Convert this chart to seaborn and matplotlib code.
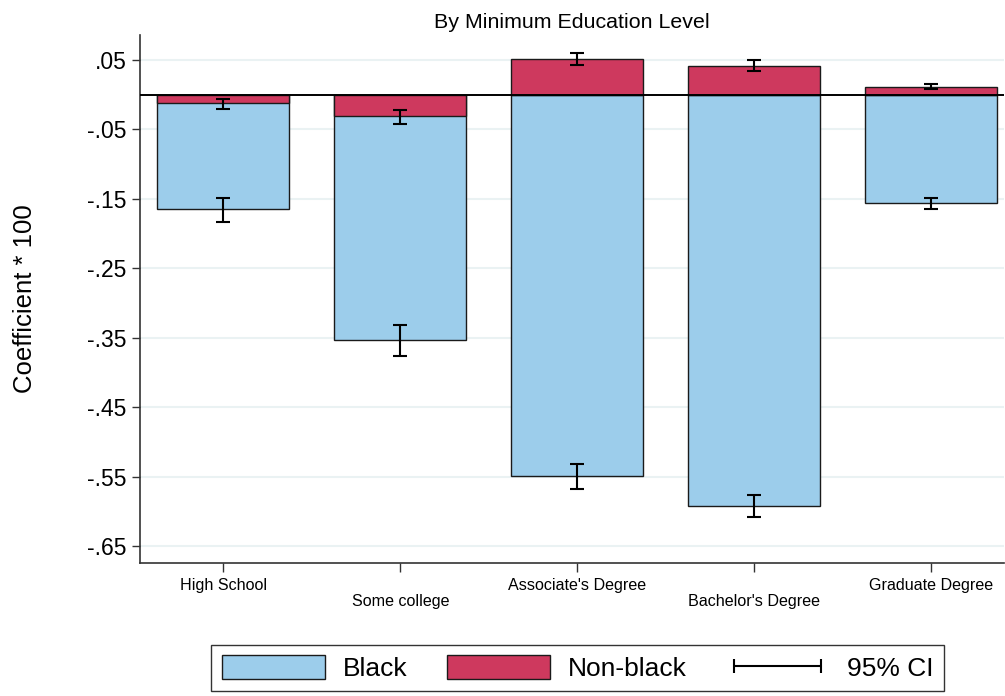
import matplotlib
matplotlib.use("Agg")
import matplotlib.pyplot as plt
import seaborn as sns
import pandas as pd
import numpy as np
from matplotlib.patches import Patch
from matplotlib.lines import Line2D

categories = ["High School", "Some college", "Associate's Degree", "Bachelor's Degree", "Graduate Degree"]
black_coef = [-0.1644, -0.3529, -0.5486, -0.5913, -0.1553]
black_lo = [-0.1826, -0.3755, -0.5680, -0.6080, -0.1644]
black_hi = [-0.1486, -0.3318, -0.5310, -0.5760, -0.1480]
nonblack_coef = [-0.0124, -0.0306, 0.0510, 0.0418, 0.0116]
nonblack_lo = [-0.0204, -0.0416, 0.0428, 0.0346, 0.0087]
nonblack_hi = [-0.0065, -0.0219, 0.0605, 0.0500, 0.0159]
ytick_vals = [0.05, -0.05, -0.15, -0.25, -0.35, -0.45, -0.55, -0.65]
ytick_labels = [".05", "-.05", "-.15", "-.25", "-.35", "-.45", "-.55", "-.65"]

sns.set_theme(style="white")
plt.rcParams["font.family"] = ["Liberation Sans", "DejaVu Sans"]
plt.rcParams["text.color"] = "black"
plt.rcParams["axes.labelcolor"] = "black"
plt.rcParams["xtick.color"] = "black"
plt.rcParams["ytick.color"] = "black"

BLUE = "#9CCDEB"
RED = "#CE395E"
EDGE = "#1a1a1a"

df_b = pd.DataFrame({"cat": categories, "val": black_coef})
df_n = pd.DataFrame({"cat": categories, "val": nonblack_coef})

fig = plt.figure(figsize=(10.05, 6.96), dpi=100)
ax = fig.add_axes([0.1393, 0.1911, 0.8597, 0.7586])

sns.barplot(data=df_b, x="cat", y="val", color=BLUE, width=0.745, edgecolor=EDGE,
            linewidth=1.0, errorbar=None, saturation=1, ax=ax, zorder=2)
sns.barplot(data=df_n, x="cat", y="val", color=RED, width=0.745, edgecolor=EDGE,
            linewidth=1.0, errorbar=None, saturation=1, ax=ax, zorder=3)

xpos = np.arange(len(categories))
for coef, lo, hi in [(black_coef, black_lo, black_hi), (nonblack_coef, nonblack_lo, nonblack_hi)]:
    coef = np.array(coef); lo = np.array(lo); hi = np.array(hi)
    ax.errorbar(xpos, coef, yerr=[coef - lo, hi - coef], fmt="none", ecolor="black",
                elinewidth=1.5, capsize=4.7, capthick=1.5, zorder=5)

ax.axhline(0, color="black", lw=1.4, zorder=4)

ax.set_xlim(-0.47, 4.41)
ax.set_ylim(-0.674, 0.086)
ax.set_yticks(ytick_vals)
ax.set_yticklabels(ytick_labels)
ax.yaxis.grid(True, color="#EAF2F3", lw=1.5)
ax.xaxis.grid(False)
ax.set_axisbelow(True)

for s in ["top", "right"]:
    ax.spines[s].set_visible(False)
for s in ["left", "bottom"]:
    ax.spines[s].set_color("#333333")
    ax.spines[s].set_linewidth(1.2)

ax.tick_params(axis="y", which="major", left=True, length=6, width=1.0, color="#333333",
               labelsize=16.5, pad=3.5, labelcolor="black")
ax.tick_params(axis="x", which="major", bottom=True, length=6.5, width=1.0, color="#333333",
               labelsize=11.6, pad=4, labelcolor="black")
ax.set_xlabel("")
ax.set_ylabel("Coefficient * 100", fontsize=18.5, labelpad=36, color="black")
for i, lab in enumerate(ax.get_xticklabels()):
    if i % 2 == 1:
        lab.set_y(-0.031)

ax.set_title("By Minimum Education Level", fontsize=15.4, pad=5, color="black")

handles = [Patch(facecolor=BLUE, edgecolor=EDGE, lw=1.0, label="Black"),
           Patch(facecolor=RED, edgecolor=EDGE, lw=1.0, label="Non-black"),
           Line2D([], [], color="black", lw=1.5, marker="|", markersize=10, markeredgewidth=1.5,
                  label="95% CI")]
leg = fig.legend(handles=handles, loc="center", bbox_to_anchor=(0.575, 0.0402), ncol=3,
                 fontsize=19, frameon=True, fancybox=False, edgecolor="black",
                 handlelength=3.9, handleheight=1.0, handletextpad=0.68, columnspacing=1.5,
                 numpoints=2, borderpad=0.4, labelcolor="black")
leg.get_frame().set_linewidth(1.0)

fig.savefig("out.png", dpi=100)
